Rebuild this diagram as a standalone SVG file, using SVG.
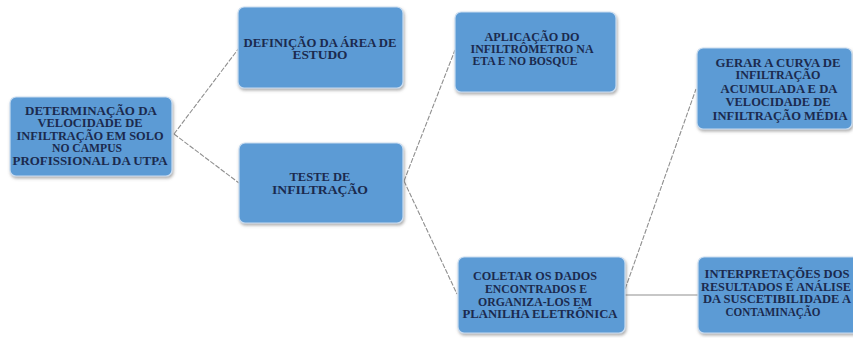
<svg xmlns="http://www.w3.org/2000/svg" width="853" height="338" viewBox="0 0 853 338">
<defs>
<filter id="sh" x="-10%" y="-10%" width="125%" height="130%">
<feDropShadow dx="1" dy="2" stdDeviation="1.5" flood-color="#6d6d6d" flood-opacity="0.55"/>
</filter>
</defs>
<style>
.box{fill:#5B9BD5;stroke:#C9DCF0;stroke-width:1.2;filter:url(#sh)}
.t{font-family:"Liberation Serif","Times New Roman",serif;font-weight:bold;font-size:11.5px;fill:#1B2A4E;text-anchor:middle}
.c{stroke:#8f8f8f;stroke-width:1.1;fill:none;stroke-dasharray:5 1.5}
</style>
<rect width="853" height="338" fill="#ffffff"/>
<g id="connectors">
<line class="c" x1="174" y1="134" x2="239" y2="48"/>
<line class="c" x1="174" y1="134" x2="239" y2="183"/>
<line class="c" x1="404" y1="181" x2="455" y2="50"/>
<line class="c" x1="404" y1="181" x2="457" y2="294"/>
<line class="c" x1="623" y1="295" x2="696" y2="89"/>
<line x1="623" y1="295" x2="698" y2="295" stroke="#8f8f8f" stroke-width="1.1"/>
</g>
<g id="n1">
<rect class="box" x="10" y="97" width="162" height="79" rx="6"/>
<text class="t" x="91" y="115" textLength="132" lengthAdjust="spacingAndGlyphs">DETERMINAÇÃO DA</text>
<text class="t" x="90" y="127" textLength="105" lengthAdjust="spacingAndGlyphs">VELOCIDADE DE</text>
<text class="t" x="90" y="140" textLength="147" lengthAdjust="spacingAndGlyphs">INFILTRAÇÃO EM SOLO</text>
<text class="t" x="87" y="152" textLength="70" lengthAdjust="spacingAndGlyphs">NO CAMPUS</text>
<text class="t" x="90" y="165" textLength="155" lengthAdjust="spacingAndGlyphs">PROFISSIONAL DA UTPA</text>
</g>
<g id="n2">
<rect class="box" x="238" y="7" width="165" height="81" rx="6"/>
<text class="t" x="320" y="47" textLength="153" lengthAdjust="spacingAndGlyphs">DEFINIÇÃO DA ÁREA DE</text>
<text class="t" x="320" y="59" textLength="55" lengthAdjust="spacingAndGlyphs">ESTUDO</text>
</g>
<g id="n3">
<rect class="box" x="239" y="143" width="164" height="80" rx="6"/>
<text class="t" x="320" y="181" textLength="61" lengthAdjust="spacingAndGlyphs">TESTE DE</text>
<text class="t" x="320" y="194" textLength="96" lengthAdjust="spacingAndGlyphs">INFILTRAÇÃO</text>
</g>
<g id="n4">
<rect class="box" x="455" y="12" width="161" height="80" rx="6"/>
<text class="t" x="532" y="41" textLength="95" lengthAdjust="spacingAndGlyphs">APLICAÇÃO DO</text>
<text class="t" x="532" y="53" textLength="123" lengthAdjust="spacingAndGlyphs">INFILTRÔMETRO NA</text>
<text class="t" x="525" y="65" textLength="105" lengthAdjust="spacingAndGlyphs">ETA E NO BOSQUE</text>
</g>
<g id="n5">
<rect class="box" x="458" y="257" width="167" height="76" rx="6"/>
<text class="t" x="535" y="280" textLength="124" lengthAdjust="spacingAndGlyphs">COLETAR OS DADOS</text>
<text class="t" x="536" y="293" textLength="102" lengthAdjust="spacingAndGlyphs">ENCONTRADOS E</text>
<text class="t" x="535" y="306" textLength="114" lengthAdjust="spacingAndGlyphs">ORGANIZA-LOS EM</text>
<text class="t" x="540" y="318" textLength="155" lengthAdjust="spacingAndGlyphs">PLANILHA ELETRÔNICA</text>
</g>
<g id="n6">
<rect class="box" x="697" y="48" width="155" height="81" rx="6"/>
<text class="t" x="778" y="67" textLength="125" lengthAdjust="spacingAndGlyphs">GERAR A CURVA DE</text>
<text class="t" x="778" y="79" textLength="85" lengthAdjust="spacingAndGlyphs">INFILTRAÇÃO</text>
<text class="t" x="779" y="93" textLength="117" lengthAdjust="spacingAndGlyphs">ACUMULADA E DA</text>
<text class="t" x="778" y="106" textLength="105" lengthAdjust="spacingAndGlyphs">VELOCIDADE DE</text>
<text class="t" x="780" y="120" textLength="135" lengthAdjust="spacingAndGlyphs">INFILTRAÇÃO MÉDIA</text>
</g>
<g id="n7">
<rect class="box" x="698" y="257" width="165" height="76" rx="6"/>
<text class="t" x="777" y="278" textLength="145" lengthAdjust="spacingAndGlyphs">INTERPRETAÇÕES DOS</text>
<text class="t" x="776" y="291" textLength="150" lengthAdjust="spacingAndGlyphs">RESULTADOS E ANÁLISE</text>
<text class="t" x="777" y="303" textLength="148" lengthAdjust="spacingAndGlyphs">DA SUSCETIBILIDADE A</text>
<text class="t" x="773" y="316" textLength="95" lengthAdjust="spacingAndGlyphs">CONTAMINAÇÃO</text>
</g>
</svg>
